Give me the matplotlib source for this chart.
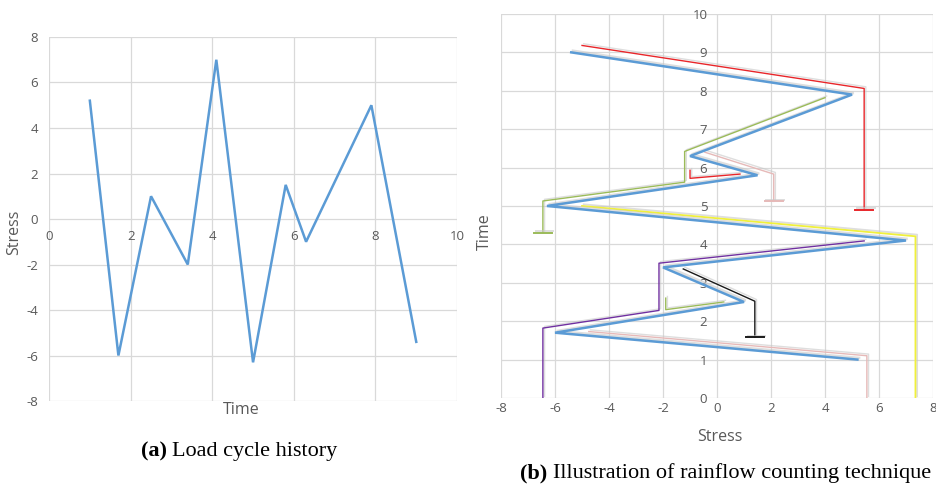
import numpy as np
from matplotlib import pyplot as plt
import matplotlib.patheffects as pe

plt.rcParams['axes.unicode_minus'] = False

# load history (same series drawn in both panels)
time = [1.0, 1.7, 2.5, 3.4, 4.1, 5.0, 5.8, 6.3, 7.9, 9.0]
stress = [5.2, -6.0, 1.0, -2.0, 7.0, -6.3, 1.5, -1.0, 5.0, -5.4]

# rainflow paths: stress / time vertices
red_big_s = [-5.0, 5.45, 5.45]
red_big_t = [9.18, 8.06, 4.9]
green_top_s = [4.0, -1.2, -1.2, -6.45, -6.45]
green_top_t = [7.82, 6.42, 5.62, 5.13, 4.3]
pink_mid_s = [-0.45, 2.1, 2.1]
pink_mid_t = [6.4, 5.83, 5.12]
red_small_s = [0.85, -1.0, -1.0]
red_small_t = [5.83, 5.72, 5.93]
yellow_s = [-5.0, 7.35, 7.35]
yellow_t = [5.0, 4.21, 0.0]
purple_s = [5.45, -2.15, -2.15, -6.45, -6.45]
purple_t = [4.09, 3.51, 2.28, 1.82, 0.0]
black_s = [-1.25, 1.4, 1.4]
black_t = [3.36, 2.52, 1.58]
green_small_s = [0.25, -1.9, -1.9]
green_small_t = [2.5, 2.3, 2.6]
pink_bot_s = [-4.75, 5.55, 5.55]
pink_bot_t = [1.73, 1.1, 0.0]

blue = '#5B9BD5'
grid_c = '#D9D9D9'
txt_c = '#595959'
title_font = dict(family='Open Sans', size=11.5, color=txt_c)

shadow = [pe.SimpleLineShadow(offset=(1.2, 1.2), shadow_color='#c8c8c8', alpha=0.6), pe.Normal()]

fig = plt.figure(figsize=(9.36, 4.9), dpi=100)

def style_ticks(ax):
	for lab in ax.get_xticklabels() + ax.get_yticklabels():
		lab.set_fontfamily('Open Sans')
		lab.set_fontsize(9.5)
		lab.set_color(txt_c)

#%% (a) load cycle history
ax1 = fig.add_axes([0.0524, 0.1816, 0.4359, 0.7429])
ax1.plot(time, stress, color=blue, linewidth=1.8, solid_joinstyle='miter')
ax1.set_xlim(0, 10)
ax1.set_ylim(-8, 8)
ax1.set_xticks(np.arange(0, 11, 2))
ax1.set_yticks(np.arange(-8, 9, 2))
for s in ax1.spines.values():
	s.set_visible(False)
ax1.spines['bottom'].set_position(('data', 0))
ax1.grid(True, color=grid_c, linewidth=0.9)
ax1.set_axisbelow(True)
ax1.tick_params(axis='x', length=0, pad=8)
ax1.tick_params(axis='y', length=0, pad=8)
style_ticks(ax1)

fig.text(14 / 936, 1 - 232 / 490, 'Stress', rotation=90, ha='center', va='center', **title_font)
fig.text(241 / 936, 1 - 410 / 490, 'Time', ha='center', va='center', **title_font)

#%% (b) rainflow counting
ax2 = fig.add_axes([0.5353, 0.1878, 0.4615, 0.7837])
ax2.set_xlim(-8, 8)
ax2.set_ylim(0, 10)
ax2.set_xticks(np.arange(-8, 9, 2))
ax2.set_yticks(np.arange(0, 11, 1))
for s in ax2.spines.values():
	s.set_visible(False)
ax2.spines['left'].set_position(('data', 0))
ax2.grid(True, color=grid_c, linewidth=0.9)
ax2.set_axisbelow(True)
ax2.tick_params(axis='x', length=0, pad=3)
ax2.tick_params(axis='y', length=0, pad=7)
style_ticks(ax2)

cap_w = 0.33

def rain(s, t, color, cap=False, lw=1.0):
	ax2.plot(s, t, color=color, linewidth=lw, path_effects=shadow, zorder=3)
	if cap:
		ax2.plot([s[-1] - cap_w, s[-1] + cap_w], [t[-1], t[-1]], color=color,
				 linewidth=lw + 0.4, path_effects=shadow, zorder=3)

rain(pink_bot_s, pink_bot_t, '#E6B9B8')
rain(pink_mid_s, pink_mid_t, '#E6B9B8', cap=True)
rain(yellow_s, yellow_t, '#F0F03C', lw=1.3)
rain(purple_s, purple_t, '#7030A0')
rain(black_s, black_t, '#1a1a1a', cap=True)
rain(green_small_s, green_small_t, '#9BBB59')
rain(green_top_s, green_top_t, '#9BBB59', cap=True)
rain(red_big_s, red_big_t, '#E8262A', cap=True)
rain(red_small_s, red_small_t, '#E8262A')

ax2.plot(stress, time, color=blue, linewidth=1.8, solid_joinstyle='miter',
		 path_effects=shadow, zorder=4)

fig.text(485 / 936, 1 - 232 / 490, 'Time', rotation=90, ha='center', va='center', **title_font)
fig.text(720 / 936, 1 - 437 / 490, 'Stress', ha='center', va='center', **title_font)

#%% captions: bold label followed by plain text, centred as a pair
cap_font = dict(family='Liberation Serif', size=16, color='black')
renderer = fig.canvas.get_renderer()
gap = 5

def caption(xc, y, tag, body):
	t1 = fig.text(0, 1 - y / 490, tag, ha='left', va='center', fontweight='bold', **cap_font)
	t2 = fig.text(0, 1 - y / 490, body, ha='left', va='center', **cap_font)
	w1 = t1.get_window_extent(renderer).width
	w2 = t2.get_window_extent(renderer).width
	x0 = xc - (w1 + gap + w2) / 2
	t1.set_x(x0 / 936)
	t2.set_x((x0 + w1 + gap) / 936)

caption(239.5, 451, '(a)', 'Load cycle history')
caption(725.5, 473, '(b)', 'Illustration of rainflow counting technique')

plt.savefig('out.png', dpi=100)
plt.close()
